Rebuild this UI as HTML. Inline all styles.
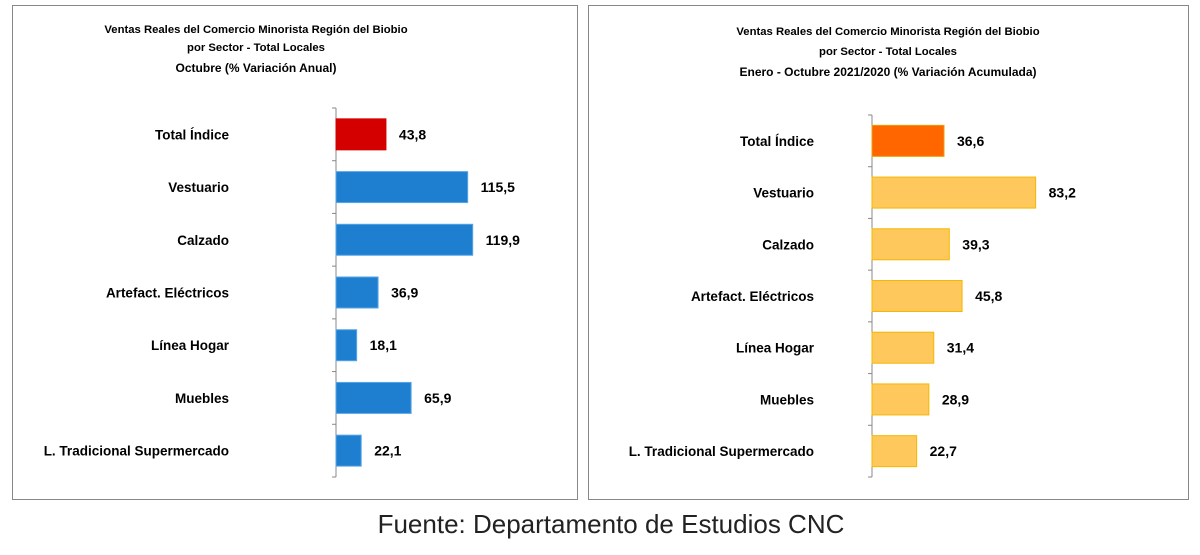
<!DOCTYPE html>
<html><head><meta charset="utf-8"><style>
body{margin:0;background:#fff;width:1200px;height:550px;overflow:hidden;font-family:"Liberation Sans",Arial,sans-serif}
svg text{font-family:"Liberation Sans",Arial,sans-serif}
</style></head><body>
<svg width="1200" height="550">
<rect x="12.5" y="5.5" width="565" height="494" fill="#fff" stroke="#888"/>
<rect x="588.5" y="5.5" width="600" height="494" fill="#fff" stroke="#888"/>
<g font-weight="bold" font-size="11.3" text-anchor="middle" fill="#000">
<text x="256" y="33">Ventas Reales del Comercio Minorista  Región del Biobio</text>
<text x="256" y="51">por Sector - Total Locales</text>
<text x="256" y="72" font-size="12">Octubre  (% Variación Anual)</text>
<text x="888" y="35">Ventas Reales del Comercio Minorista Región del Biobio</text>
<text x="888" y="55">por Sector - Total Locales</text>
<text x="888" y="76" font-size="12">Enero - Octubre 2021/2020  (% Variación Acumulada)</text>
</g>
<g id="left"></g>
<g id="right"></g>
<text x="611" y="533" text-anchor="middle" font-size="26" fill="#222">Fuente: Departamento de Estudios CNC</text>
</svg>
<script>
const categories=["Total Índice","Vestuario","Calzado","Artefact. Eléctricos","Línea Hogar","Muebles","L. Tradicional Supermercado"];
const leftValues=[43.8,115.5,119.9,36.9,18.1,65.9,22.1];
const leftLabels=["43,8","115,5","119,9","36,9","18,1","65,9","22,1"];
const rightValues=[36.6,83.2,39.3,45.8,31.4,28.9,22.7];
const rightLabels=["36,6","83,2","39,3","45,8","31,4","28,9","22,7"];
const NS="http://www.w3.org/2000/svg";
function mk(t,a){const e=document.createElementNS(NS,t);for(const k in a)e.setAttribute(k,a[k]);return e;}
function draw(gid,vals,labs,cfg){
  const g=document.getElementById(gid);
  const n=categories.length, band=(cfg.y1-cfg.y0)/n;
  const x=v=>cfg.ax+v*cfg.k;
  const axis=mk('line',{x1:cfg.ax,x2:cfg.ax,y1:cfg.y0,y2:cfg.y1,stroke:'#888','stroke-width':1});
  
  
  g.appendChild(axis);
  for(let i=0;i<=n;i++){
    const yy=cfg.y0+i*band;
    const t=mk('line',{x1:cfg.ax-4,x2:cfg.ax,y1:yy,y2:yy,stroke:'#888'});
    
    
    g.appendChild(t);
  }
  vals.forEach((v,i)=>{
    const yc=cfg.y0+band*(i+0.5), h=31;
    const r=mk('rect',{x:cfg.ax,y:yc-h/2,width:x(v)-cfg.ax,height:h,fill:i==0?cfg.first:cfg.fill,stroke:i==0?cfg.firstStroke:cfg.stroke,'stroke-width':1});
    
    
    g.appendChild(r);
    const vl=mk('text',{x:x(v)+13,y:yc+5,'font-size':14,'font-weight':'bold',fill:'#000'});
    vl.textContent=labs[i];
    
    
    g.appendChild(vl);
    const cl=mk('text',{x:cfg.lx,y:yc+5,'font-size':13.5,'font-weight':'bold','text-anchor':'end',fill:'#000'});
    cl.textContent=categories[i];
    
    
    g.appendChild(cl);
  });
}
draw('left',leftValues,leftLabels,{ax:336,k:1.14,y0:108,y1:477,lx:229,fill:'#1e7fd0',stroke:'#5aa6e6',first:'#d40000',firstStroke:'#d40000'});
draw('right',rightValues,rightLabels,{ax:872,k:1.967,y0:115,y1:477,lx:814,fill:'#ffc85c',stroke:'#f5b800',first:'#ff6600',firstStroke:'#e8a000'});
</script>
</body></html>
